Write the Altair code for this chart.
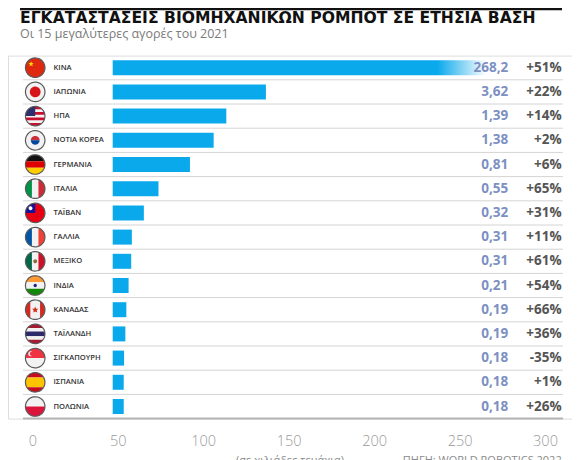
import altair as alt
import pandas as pd
import numpy as np

# ---------------- data ----------------
countries = ["ΚΙΝΑ", "ΙΑΠΩΝΙΑ", "ΗΠΑ", "ΝΟΤΙΑ ΚΟΡΕΑ", "ΓΕΡΜΑΝΙΑ", "ΙΤΑΛΙΑ", "ΤΑΪΒΑΝ",
             "ΓΑΛΛΙΑ", "ΜΕΞΙΚΟ", "ΙΝΔΙΑ", "ΚΑΝΑΔΑΣ", "ΤΑΪΛΑΝΔΗ", "ΣΙΓΚΑΠΟΥΡΗ", "ΙΣΠΑΝΙΑ", "ΠΟΛΩΝΙΑ"]
installs = [268.2, 47.2, 35.0, 31.1, 23.8, 14.1, 9.6, 5.9, 5.7, 4.9, 4.2, 3.9, 3.5, 3.4, 3.4]
value_labels = ["268,2", "3,62", "1,39", "1,38", "0,81", "0,55", "0,32", "0,31", "0,31",
                "0,21", "0,19", "0,19", "0,18", "0,18", "0,18"]
pct_labels = ["+51%", "+22%", "+14%", "+2%", "+6%", "+65%", "+31%", "+11%", "+61%",
              "+54%", "+66%", "+36%", "-35%", "+1%", "+26%"]
tick_values = [0, 50, 100, 150, 200, 250, 300]

title_text = "ΕΓΚΑΤΑΣΤΑΣΕΙΣ ΒΙΟΜΗΧΑΝΙΚΩΝ ΡΟΜΠΟΤ ΣΕ ΕΤΗΣΙΑ ΒΑΣΗ"
subtitle_text = "Οι 15 μεγαλύτερες αγορές του 2021"
unit_text = "(σε χιλιάδες τεμάχια)"
source_text = "ΠΗΓΗ: WORLD ROBOTICS 2022"

df = pd.DataFrame({"country": countries, "installs": installs,
                   "vlabel": value_labels, "plabel": pct_labels})
df["last"] = [i == len(countries) - 1 for i in range(len(countries))]

# ---------------- flag shapes (unit circle geometry) ----------------
def path(pts):
    return "M" + "L".join(f"{x:.3f},{y:.3f}" for x, y in pts) + "Z"

def arc(cx, cy, r, t0, t1, n=40):
    return [(cx + r * np.cos(t), cy + r * np.sin(t)) for t in np.linspace(t0, t1, n)]

def disc(cx, cy, r):
    return path(arc(cx, cy, r, 0, 2 * np.pi, 48))

def hband(a, b, n=20):
    ts = np.linspace(np.arcsin(a), np.arcsin(b), n)
    right = [(np.cos(t), np.sin(t)) for t in ts]
    left = [(-np.cos(t), np.sin(t)) for t in ts[::-1]]
    return path(right + left)

def vband(a, b, n=20):
    ts = np.linspace(np.arcsin(a), np.arcsin(b), n)
    bottom = [(np.sin(t), np.cos(t)) for t in ts]
    top = [(np.sin(t), -np.cos(t)) for t in ts[::-1]]
    return path(bottom + top)

def quad_tl():
    return path([(0, 0)] + arc(0, 0, 1, np.pi, 1.5 * np.pi, 24))

def half(cx, cy, r, upper=True):
    if upper:
        return path(arc(cx, cy, r, np.pi, 2 * np.pi, 24))
    return path(arc(cx, cy, r, 0, np.pi, 24))

def star(cx, cy, R, r):
    pts = []
    for k in range(10):
        t = -np.pi / 2 + k * np.pi / 5
        rr = R if k % 2 == 0 else r
        pts.append((cx + rr * np.cos(t), cy + rr * np.sin(t)))
    return path(pts)

FULL = disc(0, 0, 1)
W = "#f2f2f2"
t3 = 1 / 3
usa = [(FULL, W)] + [(hband(-1 + 2 * k / 7, -1 + 2 * (k + 1) / 7), "#c8102e") for k in (0, 2, 4, 6)] + [(quad_tl(), "#2b2f6e")]
flags = {
    "ΚΙΝΑ": [(FULL, "#de2910"), (star(-0.42, -0.38, 0.28, 0.12), "#ffde00")],
    "ΙΑΠΩΝΙΑ": [(FULL, W), (disc(0, 0, 0.55), "#d7141a")],
    "ΗΠΑ": usa,
    "ΝΟΤΙΑ ΚΟΡΕΑ": [(FULL, W), (half(0, 0, 0.45, True), "#cd2e3a"), (half(0, 0, 0.45, False), "#0047a0")],
    "ΓΕΡΜΑΝΙΑ": [(hband(-1, -t3), "#111111"), (hband(-t3, t3), "#dd0000"), (hband(t3, 1), "#ffce00")],
    "ΙΤΑΛΙΑ": [(vband(-1, -t3), "#009246"), (vband(-t3, t3), W), (vband(t3, 1), "#ce2b37")],
    "ΤΑΪΒΑΝ": [(FULL, "#e60012"), (quad_tl(), "#12129a"), (disc(-0.48, -0.48, 0.2), "#ffffff")],
    "ΓΑΛΛΙΑ": [(vband(-1, -t3), "#0055a4"), (vband(-t3, t3), W), (vband(t3, 1), "#ef4135")],
    "ΜΕΞΙΚΟ": [(vband(-1, -t3), "#006847"), (vband(-t3, t3), W), (vband(t3, 1), "#ce1126"), (disc(0, 0, 0.2), "#8c6a3a")],
    "ΙΝΔΙΑ": [(hband(-1, -t3), "#ff9933"), (hband(-t3, t3), W), (hband(t3, 1), "#138808"), (disc(0, 0, 0.17), "#1a237e")],
    "ΚΑΝΑΔΑΣ": [(FULL, W), (vband(-1, -0.5), "#d52b1e"), (vband(0.5, 1), "#d52b1e"), (star(0, 0.02, 0.34, 0.16), "#d52b1e")],
    "ΤΑΪΛΑΝΔΗ": [(hband(-1, -0.6), "#a51931"), (hband(-0.6, -0.25), W), (hband(-0.25, 0.25), "#2d2a6a"),
                 (hband(0.25, 0.6), W), (hband(0.6, 1), "#a51931")],
    "ΣΙΓΚΑΠΟΥΡΗ": [(hband(-1, 0), "#ef3340"), (hband(0, 1), W), (disc(-0.45, -0.45, 0.26), "#ffffff"),
                   (disc(-0.33, -0.45, 0.23), "#ef3340")],
    "ΙΣΠΑΝΙΑ": [(hband(-1, -0.5), "#c60b1e"), (hband(-0.5, 0.5), "#ffc400"), (hband(0.5, 1), "#c60b1e")],
    "ΠΟΛΩΝΙΑ": [(hband(-1, 0), W), (hband(0, 1), "#dc143c")],
}
rows = []
for c in countries:
    for z, (p, col) in enumerate(flags[c]):
        rows.append({"country": c, "z": z, "path": p, "color": col})
flag_df = pd.DataFrame(rows)

# ---------------- layout (styles) ----------------
PLOT_H = 363
BAR_COLOR = "#0aa9ec"
FLAG_X = 27.2
NAME_X = 45.5
VAL_X = 500.3
PCT_X = 553.7
LINE_X0, LINE_X1 = 15, 555

yscale = alt.Scale(domain=countries, paddingInner=0.38, paddingOuter=0.19)
Y = alt.Y("country:N", scale=yscale, axis=None, sort=None)
bar_x = alt.X("installs:Q", scale=alt.Scale(domain=[0, 115], range=[104.7, 478], clamp=True), axis=None)

base = alt.Chart(df)

seps = base.transform_filter("!datum.last").mark_rule(color="#d4d4d4", strokeWidth=1, yOffset=12.1).encode(
    y=Y, x=alt.value(LINE_X0), x2=alt.value(LINE_X1))
bottom_line = base.transform_filter("datum.last").mark_rule(color="#b4b4b4", strokeWidth=2, yOffset=12.1).encode(
    y=Y, x=alt.value(LINE_X0), x2=alt.value(LINE_X1))

bars = base.transform_filter("datum.country != 'ΚΙΝΑ'").mark_bar(color=BAR_COLOR).encode(y=Y, x=bar_x)
china = base.transform_filter("datum.country == 'ΚΙΝΑ'").mark_bar(
    color=alt.Gradient(gradient="linear", x1=0, x2=1, y1=0, y2=0,
                       stops=[alt.GradientStop(offset=0, color=BAR_COLOR),
                              alt.GradientStop(offset=0.87, color=BAR_COLOR),
                              alt.GradientStop(offset=0.95, color="#9fdcf6"),
                              alt.GradientStop(offset=1, color="#ffffff")])
).encode(y=Y, x=bar_x)

names = base.mark_text(align="left", font="Open Sans", fontSize=7.6, fontWeight=600, color="#333333").encode(
    y=Y, x=alt.value(NAME_X), text="country:N")
vals = base.mark_text(align="right", font="Open Sans", fontSize=13.5, fontWeight="bold", color="#7d90c2").encode(
    y=Y, x=alt.value(VAL_X), text="vlabel:N")
pcts = base.mark_text(align="right", font="Open Sans", fontSize=13.5, fontWeight="bold", color="#555555").encode(
    y=Y, x=alt.value(PCT_X), text="plabel:N")

flag_layer = alt.Chart(flag_df).mark_point(filled=True, size=380, strokeWidth=0, opacity=1).encode(
    y=Y, x=alt.value(FLAG_X),
    shape=alt.Shape("path:N", scale=None, legend=None),
    color=alt.Color("color:N", scale=None, legend=None),
    order=alt.Order("z:Q"))
rim = base.mark_point(filled=False, size=380, shape=FULL, stroke="#5a5a5a", strokeWidth=1.2, opacity=1).encode(
    y=Y, x=alt.value(FLAG_X))

axis_df = pd.DataFrame({"t": tick_values})
axis_layer = alt.Chart(axis_df).mark_point(opacity=0).encode(
    x=alt.X("t:Q", scale=alt.Scale(domain=[0, 300], range=[24.3, 537]),
            axis=alt.Axis(values=tick_values, title=None, domain=False, ticks=False, grid=False,
                          labelFont="Open Sans", labelFontSize=14.5, labelColor="#9a9a9a",
                          labelFontWeight=300, labelBaseline="middle", labelPadding=22.5,
                          labelFlush=False, labelOverlap=False)),
    y=alt.value(0))

def txt(s, x, y, **kw):
    return alt.Chart(pd.DataFrame({"s": [s]})).mark_text(**kw).encode(
        x=alt.value(x), y=alt.value(y), text="s:N")

top_rule = alt.Chart(pd.DataFrame({"a": [0]})).mark_rule(color="#111111", strokeWidth=2.2).encode(
    x=alt.value(12), x2=alt.value(554), y=alt.value(-46.4))
title = txt(title_text, 12, -32.6, align="left", baseline="alphabetic", font="DejaVu Sans",
            fontSize=15.6, fontWeight="bold", color="#111111")
subtitle = txt(subtitle_text, 12, -17.8, align="left", baseline="alphabetic", font="Open Sans",
               fontSize=12.5, color="#7a7a7a")
unit = txt(unit_text, 282, 399, align="center", baseline="top", font="Open Sans",
           fontSize=11, color="#8a8a8a")
source = txt(source_text, 553.7, 399, align="right", baseline="top", font="Open Sans",
             fontSize=11, color="#8a8a8a")

chart = alt.layer(
    seps, bottom_line, bars, china, flag_layer, rim, names, vals, pcts, axis_layer,
    top_rule, title, subtitle, unit, source
).resolve_scale(x="independent").properties(
    width=564, height=PLOT_H,
    autosize=alt.AutoSizeParams(type="none"),
    padding={"left": 0, "top": 47.6, "right": 0, "bottom": 41.4},
).configure_view(stroke=None).configure(background="#ffffff")

chart.save("out.html", embed_options={"renderer": "svg", "actions": False})
